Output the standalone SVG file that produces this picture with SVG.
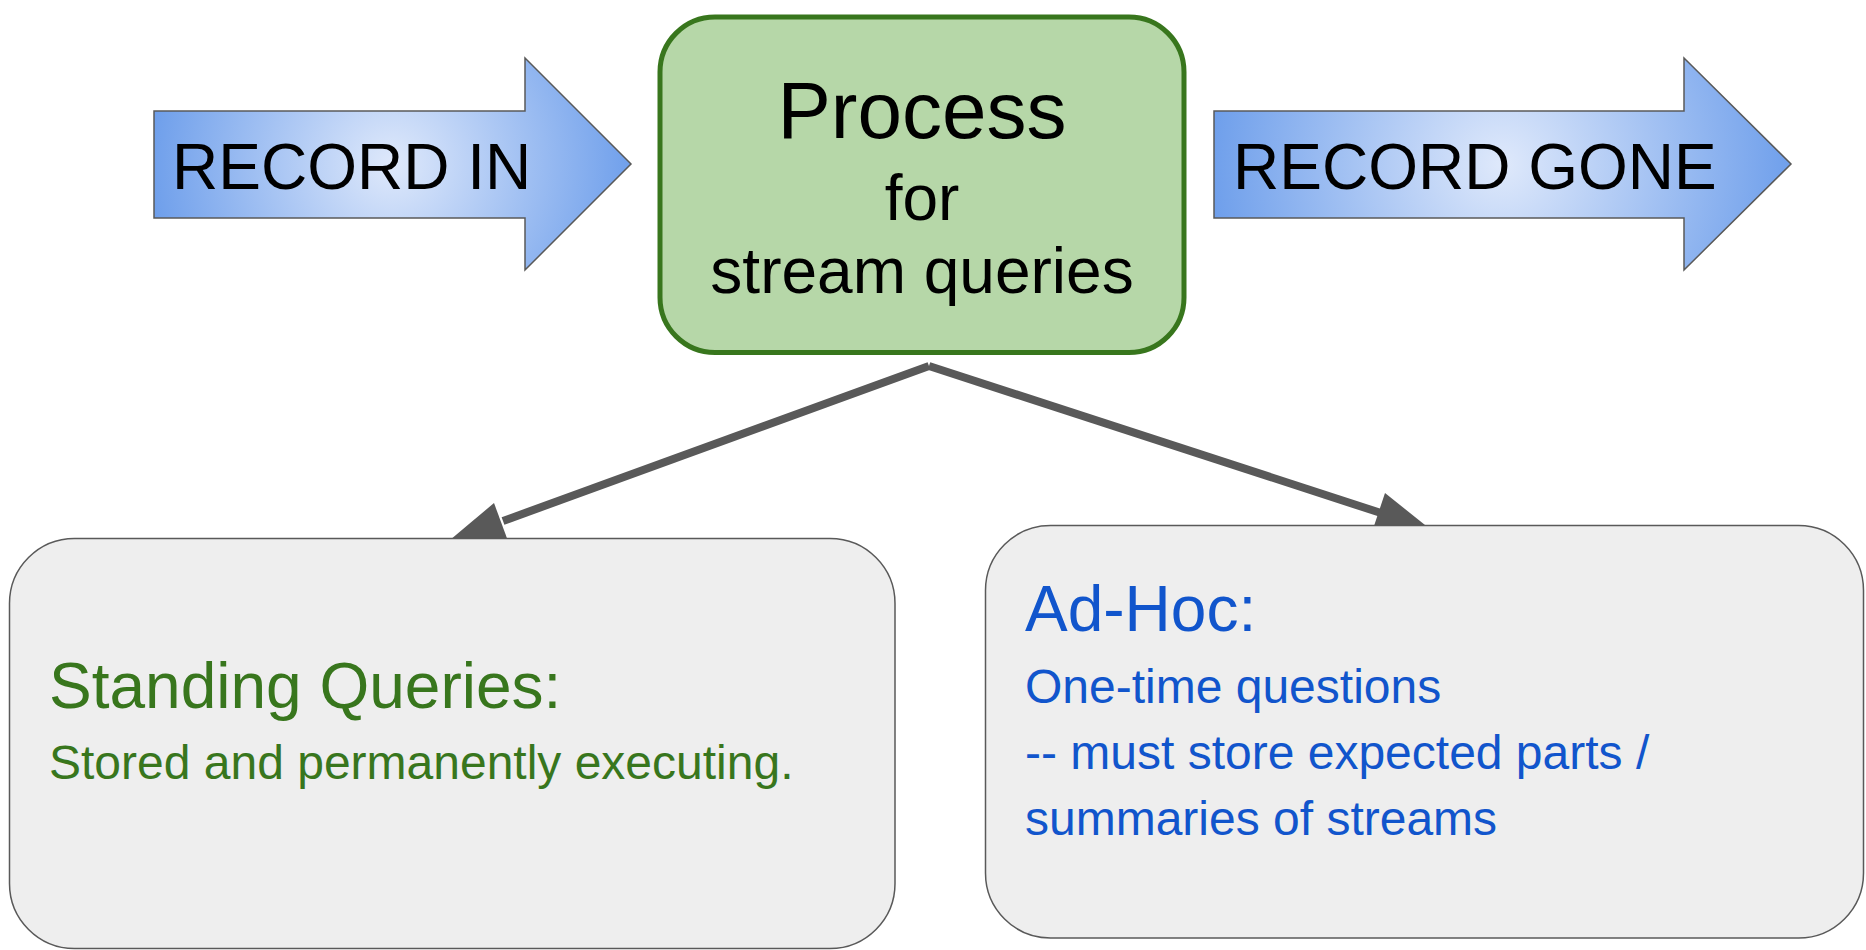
<svg xmlns="http://www.w3.org/2000/svg" width="1866" height="950" viewBox="0 0 1866 950">
<style>
.arrow{stroke:#595959;stroke-width:1.5}
.big{font-family:"Liberation Sans",Arial,sans-serif;fill:#000}
.card{fill:#eeeeee;stroke:#595959;stroke-width:1.5}
.green{font-family:"Liberation Sans",Arial,sans-serif;fill:#38761d}
.blue{font-family:"Liberation Sans",Arial,sans-serif;fill:#1155cc}
.conn{stroke:#595959;stroke-width:8;fill:none}
.head{fill:#595959}
</style>
<defs>
<radialGradient id="gradIn" gradientUnits="userSpaceOnUse" cx="392" cy="164" r="245">
<stop offset="0" stop-color="#dfe9fb"/>
<stop offset="1" stop-color="#6d9eeb"/>
</radialGradient>
<radialGradient id="gradGone" gradientUnits="userSpaceOnUse" cx="1502" cy="164" r="295">
<stop offset="0" stop-color="#dfe9fb"/>
<stop offset="1" stop-color="#6d9eeb"/>
</radialGradient>
</defs>
<rect x="0" y="0" width="1866" height="950" fill="#ffffff"/>
<g id="connectors">
<line class="conn" x1="929" y1="366" x2="503" y2="521"/>
<polygon class="head" points="450,540 494,503 508,541"/>
<line class="conn" x1="929" y1="366" x2="1381" y2="513"/>
<polygon class="head" points="1430,529 1385,493 1372,532"/>
</g>
<g id="record-in">
<polygon class="arrow" fill="url(#gradIn)" points="154,111 525,111 525,58 631,164 525,270 525,218 154,218"/>
<text class="big" x="172" y="189" font-size="64">RECORD IN</text>
</g>
<g id="process">
<rect x="660" y="17" width="524" height="335.5" rx="55" ry="55" fill="#b6d7a8" stroke="#38761d" stroke-width="5"/>
<text class="big" x="922" y="138" font-size="80" text-anchor="middle">Process</text>
<text class="big" x="922" y="220" font-size="64" text-anchor="middle">for</text>
<text class="big" x="922" y="293" font-size="64" text-anchor="middle">stream queries</text>
</g>
<g id="record-gone">
<polygon class="arrow" fill="url(#gradGone)" points="1214,111 1684,111 1684,58 1791,164 1684,270 1684,218 1214,218"/>
<text class="big" x="1233" y="189" font-size="64">RECORD GONE</text>
</g>
<g id="standing">
<rect class="card" x="9.5" y="538.5" width="885.5" height="410" rx="65" ry="65"/>
<text class="green" x="49" y="708" font-size="64">Standing Queries:</text>
<text class="green" x="49" y="779" font-size="48">Stored and permanently executing.</text>
</g>
<g id="adhoc">
<rect class="card" x="985.5" y="525.5" width="878" height="412.5" rx="65" ry="65"/>
<text class="blue" x="1025" y="631" font-size="64">Ad-Hoc:</text>
<text class="blue" x="1025" y="703" font-size="48">One-time questions</text>
<text class="blue" x="1025" y="769" font-size="48">-- must store expected parts /</text>
<text class="blue" x="1025" y="835" font-size="48">summaries of streams</text>
</g>
</svg>
